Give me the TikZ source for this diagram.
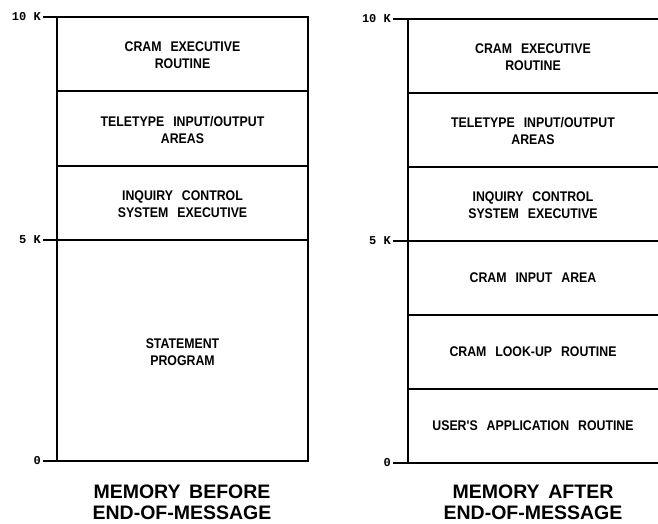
\documentclass[tikz,border=0pt]{standalone}
\usepackage{fontspec}
\setmainfont{Liberation Sans}
\newfontfamily\segfont[FakeStretch=0.88,WordSpace=2.6]{Liberation Sans}
\newfontfamily\capfont[WordSpace=1.6]{Liberation Sans}
\newfontfamily\tickfont{Liberation Mono}
\begin{document}
\begin{tikzpicture}[x=1pt,y=-1pt,
  frame/.style={line width=1.7pt,line cap=rect},
  seg/.style={align=center,font=\segfont\bfseries\fontsize{14}{17}\selectfont,inner sep=0pt},
  ticklab/.style={anchor=east,font=\tickfont\bfseries\fontsize{12}{14}\selectfont,inner sep=0pt},
  caption/.style={anchor=base,font=\capfont\bfseries\fontsize{19.5}{22}\selectfont,inner sep=0pt}]
\useasboundingbox (0,0) rectangle (658,523);

% ---------- left chart ----------
\coordinate (L10) at (57,17);
\coordinate (L5) at (57,240);
\coordinate (L0) at (57,461);
\coordinate (LR10) at (308,17);
\coordinate (LR0) at (308,461);
\draw[frame] (L10) rectangle (LR0);
\draw[frame] (57,91) -- (308,91);
\draw[frame] (57,166) -- (308,166);
\draw[frame] (L5) -- (308,240);
\draw[frame] (44,17) coordinate (LT10) -- (L10);
\draw[frame] (44,240) coordinate (LT5) -- (L5);
\draw[frame] (44,461) coordinate (LT0) -- (L0);
\node[ticklab] (l10) at (41,16.5) {10 K};
\node[ticklab] (l5) at (41,239.5) {5 K};
\node[ticklab] (l0) at (41,460.5) {0};

\node[seg] (a1) at (182.5,55) {CRAM EXECUTIVE\\ROUTINE};
\node[seg] (a2) at (182.5,129.5) {TELETYPE INPUT/OUTPUT\\AREAS};
\node[seg] (a3) at (182.5,204) {INQUIRY CONTROL\\SYSTEM EXECUTIVE};
\node[seg] (a4) at (182.5,352) {STATEMENT\\PROGRAM};

\node[caption] (c1a) at (182,498) {MEMORY BEFORE};
\node[caption] (c1b) at (182,519.5) {END-OF-MESSAGE};

% ---------- right chart ----------
\coordinate (R10) at (408,19);
\coordinate (R0) at (408,463);
\draw[frame] (R10) -- (R0);
\foreach \yy in {19,93,167,241,315,389,463}
  \draw[frame] (408,\yy) -- (660,\yy);
\draw[frame] (394,19) -- (408,19);
\draw[frame] (394,241) -- (408,241);
\draw[frame] (394,463) -- (408,463);
\node[ticklab] (r10) at (391,18.5) {10 K};
\node[ticklab] (r5) at (391,240.5) {5 K};
\node[ticklab] (r0) at (391,462.5) {0};

\node[seg] (b1) at (533,57) {CRAM EXECUTIVE\\ROUTINE};
\node[seg] (b2) at (533,131) {TELETYPE INPUT/OUTPUT\\AREAS};
\node[seg] (b3) at (533,205) {INQUIRY CONTROL\\SYSTEM EXECUTIVE};
\node[seg] (b4) at (533,278) {CRAM INPUT AREA};
\node[seg] (b5) at (533,352) {CRAM LOOK-UP ROUTINE};
\node[seg] (b6) at (533,426) {USER'S APPLICATION ROUTINE};

\node[caption] (c2a) at (533,498.5) {MEMORY AFTER};
\node[caption] (c2b) at (533,519.5) {END-OF-MESSAGE};
\end{tikzpicture}
\end{document}
